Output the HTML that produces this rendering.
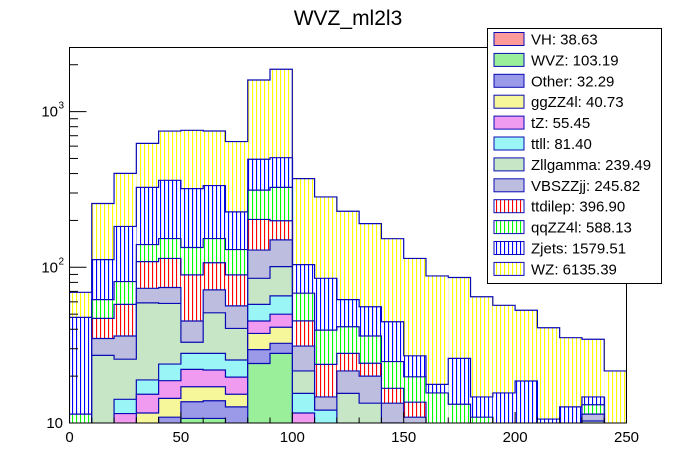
<!DOCTYPE html>
<html><head><meta charset="utf-8">
<style>
html,body{margin:0;padding:0;background:#fff;width:696px;height:472px;overflow:hidden;}
svg{display:block;font-family:"Liberation Sans",sans-serif;}
</style></head>
<body>
<svg id="chart" width="696" height="472" viewBox="0 0 696 472" xmlns="http://www.w3.org/2000/svg">
<defs>
  <clipPath id="frame-clip"><rect x="69.5" y="47.5" width="557" height="375.5"/></clipPath>
</defs>
<text x="348" y="25" font-size="21" text-anchor="middle">WVZ_ml2l3</text>
<g id="stack" clip-path="url(#frame-clip)"></g>
<rect x="69.5" y="47.5" width="557" height="375.5" fill="none" stroke="#000" stroke-width="1"/>
<g id="axes"></g>
<g id="legend"></g>
</svg>
<script>
const binEdgesStart = 0, binWidth = 10, nBins = 25;
const xTicks = [0, 50, 100, 150, 200, 250];
const yDecades = [1, 2, 3];
const names = ["VH","WVZ","Other","ggZZ4l","tZ","ttll","Zllgamma","VBSZZjj","ttdilep","qqZZ4l","Zjets","WZ"];
const totals = ["38.63","103.19","32.29","40.73","55.45","81.40","239.49","245.82","396.90","588.13","1579.51","6135.39"];
const VH      = [0,0,0,1,1,1.5,1.5,1,2,2,1,1,1,1,1,1,0,0,0,0,0,0,0,0,0];
const WVZ     = [0,0,0,3,4,9.2,9.2,4,22.1,26,2,2,1,1,2,2,2,2,2,1,1,1,1,2,2];
const Other   = [0,0,3,3,5.9,3,3.2,7.7,5.5,4.5,1,1,1,1,1,1,1,1,1,1,1,1,1,2,0];
const ggZZ4l  = [0,0,3.5,4.6,3.5,3.4,3.2,2.6,8,8.7,2,1,1,1,1,1,0,0,0,0,0,0,0,1,0];
const tZ      = [0,0,5,3.7,4.3,5,4.8,4.4,7.6,8.8,5.6,2,1,1,1,1,0,0,0,0,0,0,0,1,0];
const ttll    = [0,0,2.7,3.6,5.2,5.9,6.1,5.7,12.6,15.5,3.9,5.1,2,1,1,1,0,0,0,0,0,0,0,1,0];
const Zllgamma= [0,27.2,11.5,40.2,34.7,5,23,15.1,27.2,35.5,6.1,0,8.5,7.4,3,2,1,0,0,0,0,0,0,3.3,0];
const VBSZZjj = [0,7.7,10.5,14.2,15.6,12.2,20.6,16,44,49,9.6,2.6,6.1,6.6,3.4,1.9,1,1,1,1,1,1,1,1.1,0];
const ttdilep = [0,12.1,21.6,35.4,39.8,44.2,35.4,32.9,74,49,14.1,9.1,6.4,4.2,3.3,2.7,0,0,0,0,0,0,0,0,0];
const qqZZ4l  = [11.4,15,23.2,31.3,39,44.6,46,40.6,110,127,22.9,15.7,13.5,12,8.1,6.2,10.6,9.2,6.9,1,1,1,1,1.7,0];
const Zjets   = [36.3,50,102,186,209,186,182,97,181,180,35.8,45.5,20.5,19.6,19.9,7.2,2.1,12.8,3.8,11.6,14.6,6.6,8.7,1.6,3];
const WZ      = [21.4,145,218,299,388,438,416,415,1101,1364,267,198,167,135,108,87,70.3,60,50,41.4,34.4,30.3,22.6,19.8,16.6];
const series = [VH,WVZ,Other,ggZZ4l,tZ,ttll,Zllgamma,VBSZZjj,ttdilep,qqZZ4l,Zjets,WZ];

const styles = [
  {t:'s', c:'#ff9a9a'}, {t:'s', c:'#9af09a'}, {t:'s', c:'#9a9ae8'}, {t:'s', c:'#f6f69a'},
  {t:'s', c:'#f09af0'}, {t:'s', c:'#9af6f6'}, {t:'s', c:'#c6e6c6'}, {t:'s', c:'#bdbde0'},
  {t:'v', c:'#ff0000'}, {t:'v', c:'#00ff00'}, {t:'v', c:'#0000ff'}, {t:'v', c:'#ffff00'}
];

const NS = "http://www.w3.org/2000/svg";
const X0 = 69.5, X1 = 626.5, Y10 = 423, DEC = 155.7, YTOP = 47.5;
const xScale = v => X0 + (v - 0) / 250 * (X1 - X0);
const yScale = v => { if (v <= 0) return 430; return Math.min(430, Y10 - DEC * Math.log10(v / 10)); };
const yBottom = 430;

function mk(tag, attrs){ const e = document.createElementNS(NS, tag); for (const k in attrs) e.setAttribute(k, attrs[k]); return e; }

function hatchInto(g, color, x0, x1, y0, y1){
  if (y1 <= y0) return;
  g.appendChild(mk('rect', {x: x0, y: y0, width: x1 - x0, height: y1 - y0, fill: '#fff'}));
  let d = '';
  for (let x = 72; x < x1; x += 4) {
    if (x >= x0) d += `M${x},${y0}h1.1V${y1}h-1.1Z`;
  }
  if (d) g.appendChild(mk('path', {d: d, fill: color, stroke: 'none'}));
}

const cum = [];
let run = new Array(nBins).fill(0);
for (let s = 0; s < series.length; s++) {
  run = run.map((r, i) => r + series[s][i]);
  cum.push(run.slice());
}
const stackG = document.getElementById('stack');
for (let s = series.length - 1; s >= 0; s--) {
  let fillD = `M${xScale(binEdgesStart)},${yBottom}`;
  let lineD = '';
  const g = mk('g', {});
  
  
  const st = styles[s];
  for (let i = 0; i < nBins; i++) {
    const xa = xScale(binEdgesStart + i * binWidth), xb = xScale(binEdgesStart + (i + 1) * binWidth);
    const y = yScale(cum[s][i]);
    fillD += ` L${xa},${y} L${xb},${y}`;
    lineD += (i === 0 ? `M${xa},${yBottom} L${xa},${y}` : ` L${xa},${y}`) + ` L${xb},${y}`;
    if (st.t === 'v') hatchInto(g, st.c, xa, xb, y, yBottom);
  }
  const xe = xScale(binEdgesStart + nBins * binWidth);
  fillD += ` L${xe},${yBottom} Z`;
  lineD += ` L${xe},${yBottom}`;
  if (st.t === 's') g.appendChild(mk('path', {d: fillD, fill: st.c, stroke: 'none'}));
  g.appendChild(mk('path', {d: lineD, fill: 'none', stroke: '#0a0ab4', 'stroke-width': 1.2}));
  stackG.appendChild(g);
}

const axes = document.getElementById('axes');
for (let v = 0; v <= 250; v += 10) {
  const major = v % 50 === 0;
  const t = mk('line', {x1: xScale(v), x2: xScale(v), y1: 423, y2: 423 - (major ? 11 : 5.5), stroke: '#000'});
  
  
  axes.appendChild(t);
}
xTicks.forEach(v => {
  const t = mk('text', {x: xScale(v), y: 442, 'font-size': 15, 'text-anchor': 'middle'});
  t.textContent = v;
  
  
  axes.appendChild(t);
});
for (let dec = 1; dec <= 3; dec++) {
  for (let m = 1; m <= 9; m++) {
    const v = m * Math.pow(10, dec);
    const y = Y10 - DEC * Math.log10(v / 10);
    if (y < YTOP) continue;
    const t = mk('line', {x1: X0, x2: X0 + (m === 1 ? 17 : 8.5), y1: y, y2: y, stroke: '#000'});
    
    
    axes.appendChild(t);
  }
}
yDecades.forEach(dec => {
  const y = Y10 - DEC * Math.log10(Math.pow(10, dec) / 10);
  const t = mk('text', {x: dec === 1 ? 63 : 58, y: y + 5, 'font-size': 15, 'text-anchor': 'end'});
  t.textContent = '10';
  
  
  axes.appendChild(t);
  if (dec > 1) {
    const s = mk('text', {x: 58.5, y: y - 3, 'font-size': 10});
    s.textContent = String(dec);
    
    
    axes.appendChild(s);
  }
});

const lg = document.getElementById('legend');
const box = mk('rect', {x: 487.5, y: 28.5, width: 174, height: 255, fill: '#fff', stroke: '#000'});


lg.appendChild(box);
for (let i = 0; i < names.length; i++) {
  const y = 32.5 + i * 20.9;
  const g = mk('g', {});
  
  
  const st = styles[i];
  if (st.t === 's') {
    g.appendChild(mk('rect', {x: 494, y: y, width: 30, height: 13, fill: st.c}));
  } else {
    hatchInto(g, st.c, 494, 524, y, y + 13);
  }
  g.appendChild(mk('rect', {x: 494, y: y, width: 30, height: 13, fill: 'none', stroke: '#0a0ab4'}));
  const t = mk('text', {x: 531, y: y + 12, 'font-size': 15});
  t.textContent = names[i] + ': ' + totals[i];
  g.appendChild(t);
  lg.appendChild(g);
}
</script>
</body></html>
